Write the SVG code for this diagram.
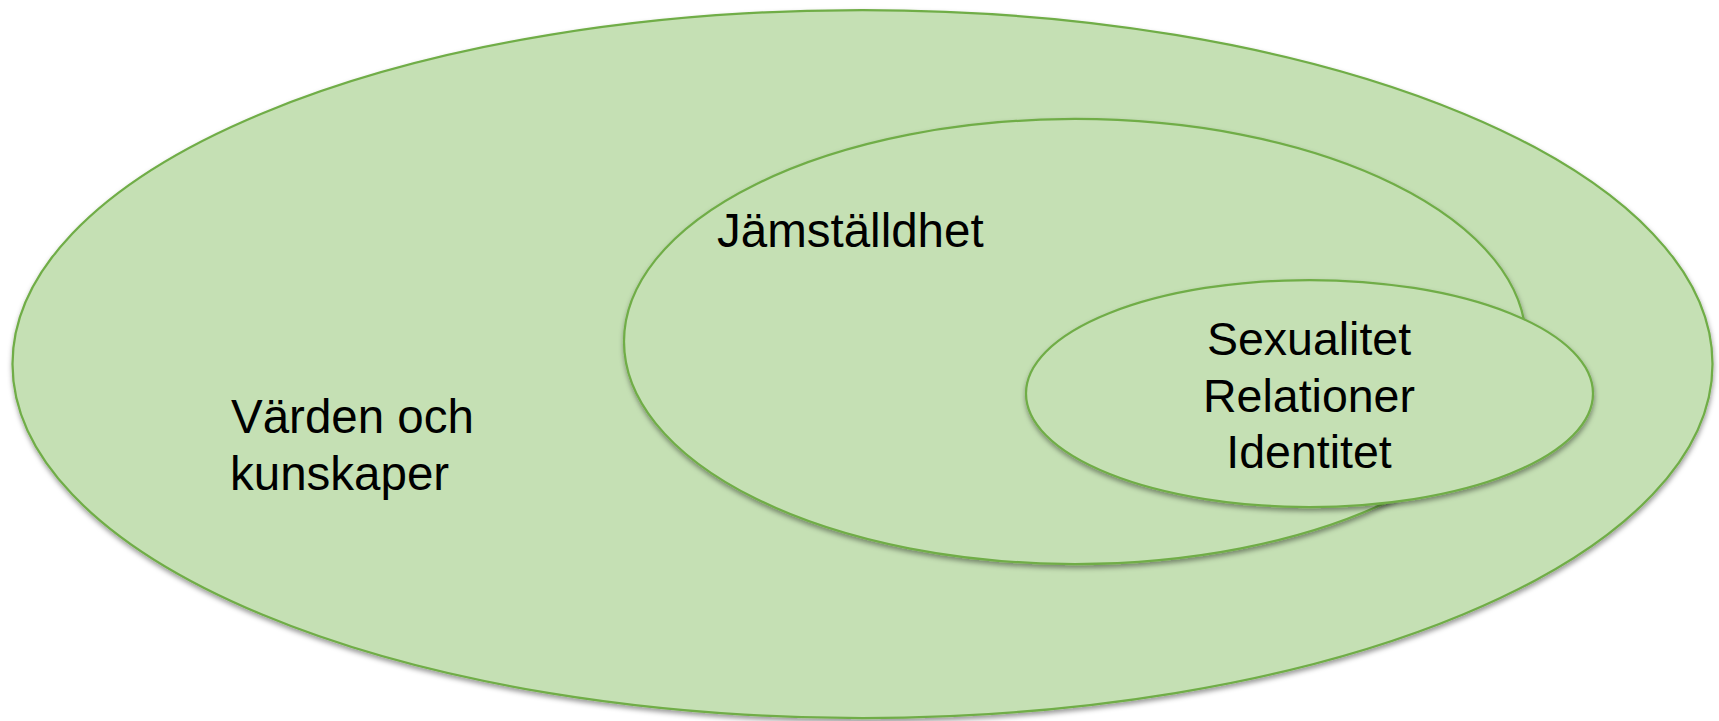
<svg xmlns="http://www.w3.org/2000/svg" width="1719" height="721" viewBox="0 0 1719 721">
<style>
.ell{fill:#C5E0B4;stroke:#70AD47;stroke-width:2.25;filter:url(#sh)}
.lbl{font-family:"Liberation Sans",Arial,sans-serif;fill:#000}
</style>
<defs>
<filter id="sh" x="-5%" y="-5%" width="110%" height="115%">
<feDropShadow dx="0.5" dy="3" stdDeviation="2.5" flood-color="#000" flood-opacity="0.4"/>
</filter>
</defs>
<rect width="1719" height="721" fill="#fff"/>
<g id="outer">
<ellipse class="ell" cx="862.5" cy="364" rx="850" ry="354"/>
<text class="lbl" font-size="47.5" x="231" y="433">Värden och</text>
<text class="lbl" font-size="47.5" x="230" y="490">kunskaper</text>
</g>
<g id="jamstalldhet">
<ellipse class="ell" cx="1075" cy="341.5" rx="451" ry="222.5"/>
<text class="lbl" font-size="47.5" x="717" y="247">Jämställdhet</text>
</g>
<g id="inner">
<ellipse class="ell" cx="1309.5" cy="393.5" rx="283.5" ry="113.5"/>
<text class="lbl" font-size="46.5" text-anchor="middle" x="1309" y="355">Sexualitet</text>
<text class="lbl" font-size="46.5" text-anchor="middle" x="1309" y="412">Relationer</text>
<text class="lbl" font-size="46.5" text-anchor="middle" x="1309" y="468">Identitet</text>
</g>
<g id="connectors"/>
</svg>
